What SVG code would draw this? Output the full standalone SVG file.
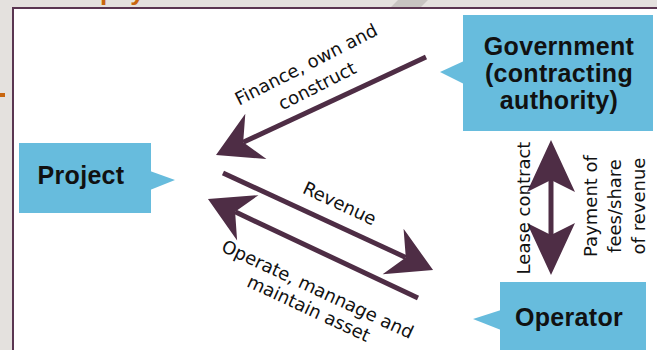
<svg xmlns="http://www.w3.org/2000/svg" width="657" height="350" viewBox="0 0 657 350">
  <style>
    .node { fill: #67bcdd; }
    .title { font-family: "Liberation Sans", Arial, sans-serif; font-weight: bold; font-size: 25px; fill: #111; text-anchor: middle; letter-spacing: 0.3px; }
    .label { font-family: "DejaVu Sans", "Liberation Sans", sans-serif; font-size: 18px; fill: #111; text-anchor: middle; }
    .conn { stroke: #4e2d45; stroke-width: 5; fill: none; }
  </style>
  <defs>
    <marker id="head" markerUnits="userSpaceOnUse" orient="auto" overflow="visible" markerWidth="1" markerHeight="1" refX="0" refY="0">
      <path d="M30,0 L-14,-25 L0,0 L-14,25 Z" fill="#4e2d45"/>
    </marker>
    <marker id="headV" markerUnits="userSpaceOnUse" orient="auto-start-reverse" overflow="visible" markerWidth="1" markerHeight="1" refX="0" refY="0">
      <path d="M40,0 L-12,-24 L0,0 L-12,24 Z" fill="#4e2d45"/>
    </marker>
  </defs>

  <!-- page backdrop and framed panel -->
  <rect x="0" y="0" width="657" height="350" fill="#e4e1de"/>
  <polygon points="398,0 428,0 420,8 390,8" fill="#c7c4c1"/>
  <text x="100" y="0" font-family="Liberation Sans, Arial, sans-serif" font-weight="bold" font-size="26" fill="#c8660f">pay</text>
  <rect x="0" y="93" width="5" height="4" fill="#c8660f"/>
  <rect x="13" y="8" width="660" height="360" fill="#ffffff" stroke="#5a3651" stroke-width="2"/>

  <!-- connectors -->
  <g id="connectors">
    <line class="conn" x1="426" y1="57" x2="243.2" y2="142.3" marker-end="url(#head)"/>
    <line class="conn" x1="223" y1="173" x2="405.8" y2="257.4" marker-end="url(#head)"/>
    <line class="conn" x1="418" y1="298" x2="235.1" y2="211.8" marker-end="url(#head)"/>
    <line class="conn" x1="551" y1="180" x2="551" y2="235" marker-start="url(#headV)" marker-end="url(#headV)"/>
    <text class="label" transform="translate(309,70) rotate(-27)"><tspan x="0" y="0">Finance, own and</tspan><tspan x="0" y="24">construct</tspan></text>
    <text class="label" transform="translate(337,209) rotate(25)">Revenue</text>
    <text class="label" transform="translate(315,295) rotate(25)"><tspan x="0" y="0">Operate, mannage and</tspan><tspan x="0" y="21">maintain asset</tspan></text>
    <text class="label" transform="translate(530,208) rotate(-90)">Lease contract</text>
    <text class="label" transform="translate(597,206) rotate(-90)"><tspan x="0" y="0">Payment of</tspan><tspan x="0" y="24">fees/share</tspan><tspan x="0" y="48">of revenue</tspan></text>
  </g>

  <!-- nodes -->
  <g id="project">
    <rect class="node" x="19" y="143" width="132" height="70"/>
    <polygon class="node" points="150,171 175,180 150,190"/>
    <text class="title" x="81" y="184">Project</text>
  </g>
  <g id="government">
    <rect class="node" x="463" y="15" width="190" height="116"/>
    <polygon class="node" points="464,61 440,72 464,84"/>
    <text class="title" x="559" y="55">Government</text>
    <text class="title" x="559" y="82">(contracting</text>
    <text class="title" x="559" y="109">authority)</text>
  </g>
  <g id="operator">
    <rect class="node" x="500" y="282" width="146" height="80"/>
    <polygon class="node" points="501,310 473,319 501,330"/>
    <text class="title" x="569" y="326">Operator</text>
  </g>
</svg>
